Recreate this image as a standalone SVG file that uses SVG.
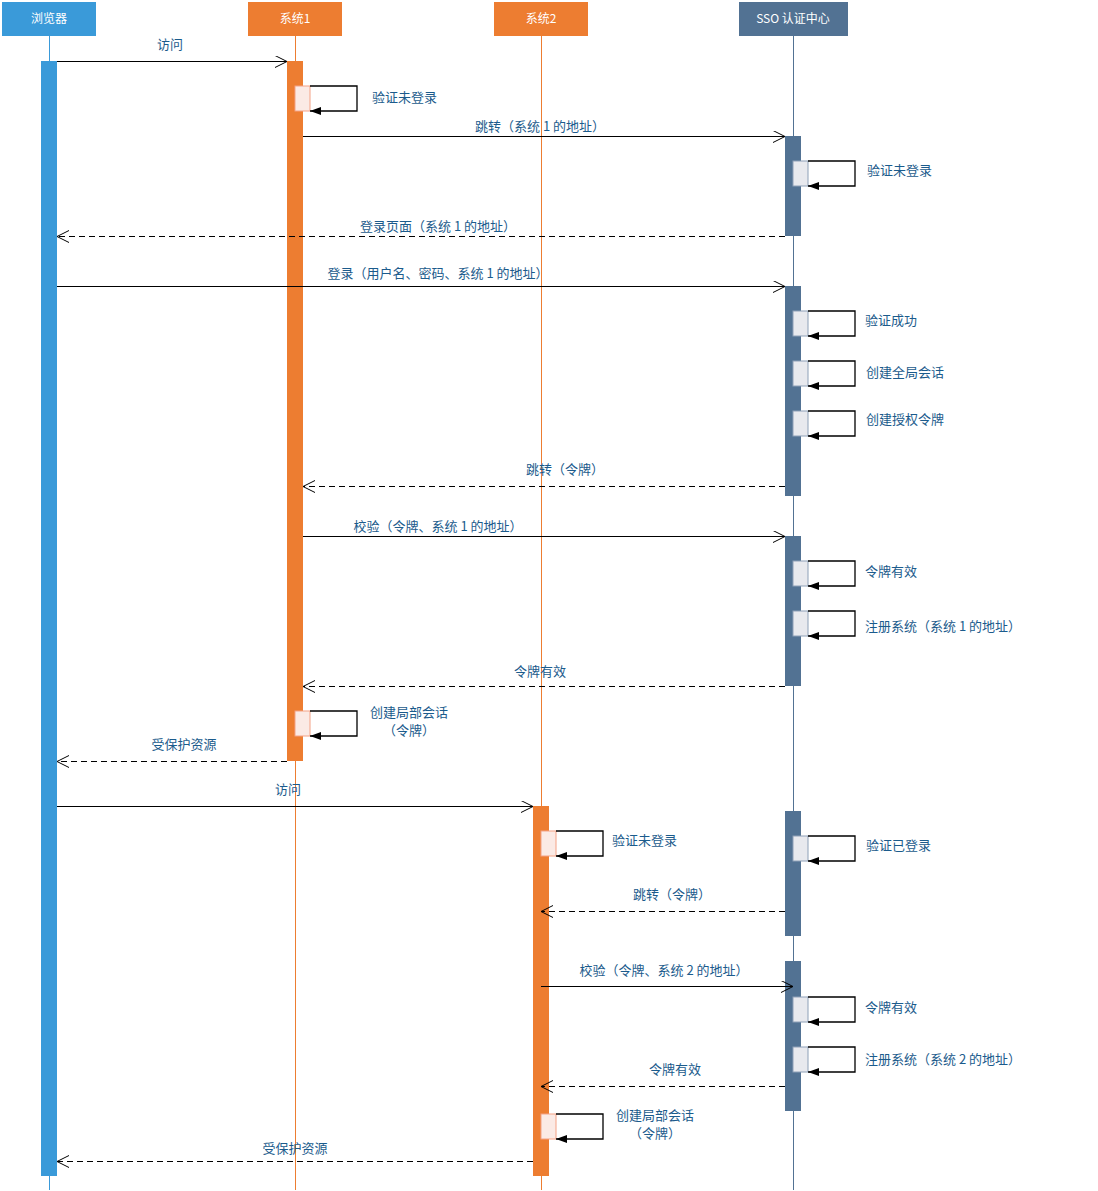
<svg xmlns="http://www.w3.org/2000/svg" width="1098" height="1191" viewBox="0 0 1098 1191">
<style>
text{font-family:"Noto Sans CJK SC","Noto Sans",sans-serif;font-size:13px;fill:#1b5b8c}
.hd{fill:#fff;font-size:12px;text-anchor:middle}
.m{text-anchor:middle}
.msg{stroke:#000;stroke-width:1;fill:none;marker-end:url(#open)}
.ret{stroke:#000;stroke-width:1;fill:none;stroke-dasharray:6,4;marker-end:url(#open)}
.self{stroke:#000;stroke-width:1.3;fill:none;marker-end:url(#solid)}
.bB{fill:#3a9ad9}.bO{fill:#ed7d31}.bS{fill:#527293}
.sO{fill:#fbeae5;stroke:#f4a285;stroke-width:1}
.sS{fill:#e8e9ee;stroke:#8ea0b8;stroke-width:1}
</style>
<defs>
<marker id="open" markerWidth="14" markerHeight="14" refX="13" refY="6" orient="auto" markerUnits="userSpaceOnUse"><path d="M1,0 L13,6 L1,12" fill="none" stroke="#000" stroke-width="1"/></marker>
<marker id="solid" markerWidth="12" markerHeight="10" refX="11" refY="4" orient="auto" markerUnits="userSpaceOnUse"><path d="M0,0 L11,4 L0,8 Z" fill="#000"/></marker>
</defs>
<rect width="1098" height="1191" fill="#fff"/>

<g id="browser">
<rect x="2" y="2" width="94" height="34" class="bB"/>
<text x="49" y="23" class="hd">浏览器</text>
<line x1="49.5" y1="36" x2="49.5" y2="1190" stroke="#3a9ad9"/>
<rect x="41" y="61" width="16" height="1115" class="bB"/>
</g>

<g id="system1">
<rect x="248" y="2" width="94" height="34" class="bO"/>
<text x="295" y="23" class="hd">系统1</text>
<line x1="295.5" y1="36" x2="295.5" y2="1190" stroke="#ed7d31"/>
<rect x="287" y="61" width="16" height="700" class="bO"/>
<rect x="295" y="86" width="15" height="25" class="sO"/>
<rect x="295" y="711" width="15" height="25" class="sO"/>
</g>

<g id="system2">
<rect x="494" y="2" width="94" height="34" class="bO"/>
<text x="541" y="23" class="hd">系统2</text>
<line x1="541.5" y1="36" x2="541.5" y2="1190" stroke="#ed7d31"/>
<rect x="533" y="806" width="16" height="370" class="bO"/>
<rect x="541" y="831" width="15" height="25" class="sO"/>
<rect x="541" y="1114" width="15" height="25" class="sO"/>
</g>

<g id="sso">
<rect x="739" y="2" width="109" height="34" class="bS"/>
<text x="793" y="23" class="hd">SSO 认证中心</text>
<line x1="793.5" y1="36" x2="793.5" y2="1190" stroke="#527293"/>
<rect x="785" y="136" width="16" height="100" class="bS"/>
<rect x="785" y="286" width="16" height="210" class="bS"/>
<rect x="785" y="536" width="16" height="150" class="bS"/>
<rect x="785" y="811" width="16" height="125" class="bS"/>
<rect x="785" y="961" width="16" height="150" class="bS"/>
<rect x="793" y="161" width="15" height="25" class="sS"/>
<rect x="793" y="311" width="15" height="25" class="sS"/>
<rect x="793" y="361" width="15" height="25" class="sS"/>
<rect x="793" y="411" width="15" height="25" class="sS"/>
<rect x="793" y="561" width="15" height="25" class="sS"/>
<rect x="793" y="611" width="15" height="25" class="sS"/>
<rect x="793" y="836" width="15" height="25" class="sS"/>
<rect x="793" y="997" width="15" height="25" class="sS"/>
<rect x="793" y="1047" width="15" height="25" class="sS"/>
</g>

<g id="connectors">
<path class="msg" d="M57,61.5 H287"/>
<path class="self" d="M310,86 H357 V111 H310"/>
<path class="msg" d="M303,136.5 H785"/>
<path class="self" d="M808,161 H855 V186 H808"/>
<path class="ret" d="M785,236.5 H57"/>
<path class="msg" d="M57,286.5 H785"/>
<path class="self" d="M808,311 H855 V336 H808"/>
<path class="self" d="M808,361 H855 V386 H808"/>
<path class="self" d="M808,411 H855 V436 H808"/>
<path class="ret" d="M785,486.5 H303"/>
<path class="msg" d="M303,536.5 H785"/>
<path class="self" d="M808,561 H855 V586 H808"/>
<path class="self" d="M808,611 H855 V636 H808"/>
<path class="ret" d="M785,686.5 H303"/>
<path class="self" d="M310,711 H357 V736 H310"/>
<path class="ret" d="M287,761.5 H57"/>
<path class="msg" d="M57,806.5 H533"/>
<path class="self" d="M556,831 H603 V856 H556"/>
<path class="self" d="M808,836 H855 V861 H808"/>
<path class="ret" d="M785,911.5 H541"/>
<path class="msg" d="M541,986.5 H793"/>
<path class="self" d="M808,997 H855 V1022 H808"/>
<path class="self" d="M808,1047 H855 V1072 H808"/>
<path class="ret" d="M785,1086.5 H541"/>
<path class="self" d="M556,1114 H603 V1139 H556"/>
<path class="ret" d="M533,1161.5 H57"/>
</g>

<g id="labels">
<text x="170" y="49" class="m">访问</text>
<text x="372" y="102">验证未登录</text>
<text x="540" y="131" class="m">跳转（系统 1 的地址）</text>
<text x="867" y="175">验证未登录</text>
<text x="438" y="231" class="m">登录页面（系统 1 的地址）</text>
<text x="438" y="278" class="m">登录（用户名、密码、系统 1 的地址）</text>
<text x="865" y="325">验证成功</text>
<text x="866" y="377">创建全局会话</text>
<text x="866" y="424">创建授权令牌</text>
<text x="565" y="474" class="m">跳转（令牌）</text>
<text x="438" y="531" class="m">校验（令牌、系统 1 的地址）</text>
<text x="865" y="576">令牌有效</text>
<text x="865" y="631">注册系统（系统 1 的地址）</text>
<text x="540" y="676" class="m">令牌有效</text>
<text x="409" y="717" class="m">创建局部会话</text>
<text x="409" y="735" class="m">（令牌）</text>
<text x="184" y="749" class="m">受保护资源</text>
<text x="288" y="794" class="m">访问</text>
<text x="612" y="845">验证未登录</text>
<text x="866" y="850">验证已登录</text>
<text x="672" y="899" class="m">跳转（令牌）</text>
<text x="664" y="975" class="m">校验（令牌、系统 2 的地址）</text>
<text x="865" y="1012">令牌有效</text>
<text x="865" y="1064">注册系统（系统 2 的地址）</text>
<text x="675" y="1074" class="m">令牌有效</text>
<text x="655" y="1120" class="m">创建局部会话</text>
<text x="655" y="1138" class="m">（令牌）</text>
<text x="295" y="1153" class="m">受保护资源</text>
</g>
</svg>
